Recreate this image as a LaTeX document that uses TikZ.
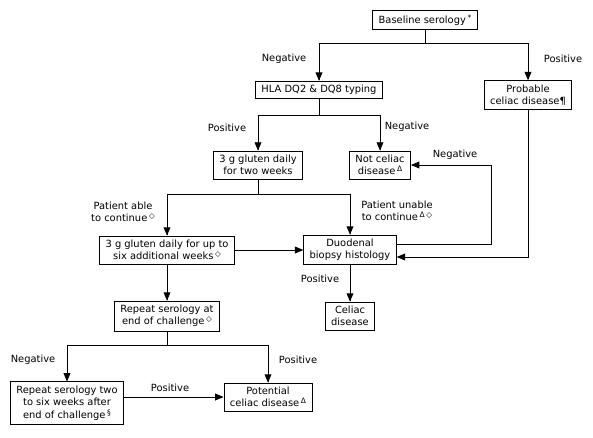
\documentclass[tikz,border=0pt]{standalone}
\usepackage{fontspec}
\setmainfont{DejaVu Sans}
\usepackage{tikz}
\usetikzlibrary{arrows}
\tikzstyle{every node}=[font=\fontsize{9.9}{12.3}\selectfont]
\tikzstyle{box}=[draw,line width=0.9pt,align=center,inner xsep=6pt,inner ysep=4pt]
\tikzstyle{lbl}=[align=center,inner sep=0pt]
\newcommand{\supmark}[1]{\,\raisebox{0.55ex}{\fontsize{7.5}{8}\selectfont #1}}
\newcommand{\dia}{\supmark{◇}}
\newcommand{\dlt}{\supmark{Δ}}

\begin{document}
\begin{tikzpicture}[line cap=rect,line join=miter,>=triangle 45,x=1pt,y=-1pt]
                    \useasboundingbox (0,0) rectangle (593,437);
                    % boxes
                    \node[box] (base) at (425,20) {Baseline serology\supmark{*}};
                    \node[box] (hla) at (319,90) {HLA DQ2 \& DQ8 typing};
                    \node[box] (prob) at (528,95) {Probable\\celiac disease¶};
                    \node[box] (twowk) at (258,165) {3 g gluten daily\\for two weeks};
                    \node[box] (notc) at (380,165) {Not celiac\\disease\dlt};
                    \node[box] (sixwk) at (167,250) {3 g gluten daily for up to\\six additional weeks\dia};
                    \node[box] (duo) at (350,250) {Duodenal\\biopsy histology};
                    \node[box] (celiac) at (350,316) {Celiac\\disease};
                    \node[box] (rep) at (167,316) {Repeat serology at\\end of challenge\dia};
                    \node[box] (rep2) at (67,403) {Repeat serology two\\to six weeks after\\end of challenge\supmark{§}};
                    \node[box] (pot) at (268,397) {Potential\\celiac disease\dlt};
                    % connectors
                    \draw [line width=0.9pt] (base.south) -- ++(0,14) coordinate (s1);
                    \draw [->,line width=0.9pt] (s1) -| (hla.north);
                    \draw [->,line width=0.9pt] (s1) -| (prob.north);
                    \draw [line width=0.9pt] (hla.south) -- ++(0,16) coordinate (s2);
                    \draw [->,line width=0.9pt] (s2) -| (twowk.north);
                    \draw [->,line width=0.9pt] (s2) -| (notc.north);
                    \draw [line width=0.9pt] (twowk.south) -- ++(0,15) coordinate (s3);
                    \draw [->,line width=0.9pt] (s3) -| (sixwk.north);
                    \draw [->,line width=0.9pt] (s3) -| (duo.north);
                    \draw [->,line width=0.9pt] (sixwk.east) -- (duo.west);
                    \draw [->,line width=0.9pt] ([yshift=6pt]duo.east) -- ++(95,0) |- (notc.east);
                    \draw [->,line width=0.9pt] (prob.south) |- ([yshift=-7pt]duo.east);
                    \draw [->,line width=0.9pt] (duo.south) -- (celiac.north);
                    \draw [->,line width=0.9pt] (sixwk.south) -- (rep.north);
                    \draw [line width=0.9pt] (rep.south) -- ++(0,14) coordinate (s4);
                    \draw [->,line width=0.9pt] (s4) -| (rep2.north);
                    \draw [->,line width=0.9pt] (s4) -| (pot.north);
                    \draw [->,line width=0.9pt] (rep2.east |- pot.west) -- (pot.west);
                    % labels
                    \node[lbl] (l1) at (284,59) {Negative};
                    \node[lbl] (l2) at (563,59) {Positive};
                    \node[lbl] (l3) at (227,128) {Positive};
                    \node[lbl] (l4) at (407,127) {Negative};
                    \node[lbl] (l5) at (455,155) {Negative};
                    \node[lbl] (l6) at (123,212) {Patient able\\to continue\dia};
                    \node[lbl] (l7) at (397,211) {Patient unable\\to continue\dlt\dia};
                    \node[lbl] (l8) at (320,279) {Positive};
                    \node[lbl] (l9) at (33,360) {Negative};
                    \node[lbl] (l10) at (298,360) {Positive};
                    \node[lbl] (l11) at (170,388) {Positive};
                    \end{tikzpicture}
\end{document}
